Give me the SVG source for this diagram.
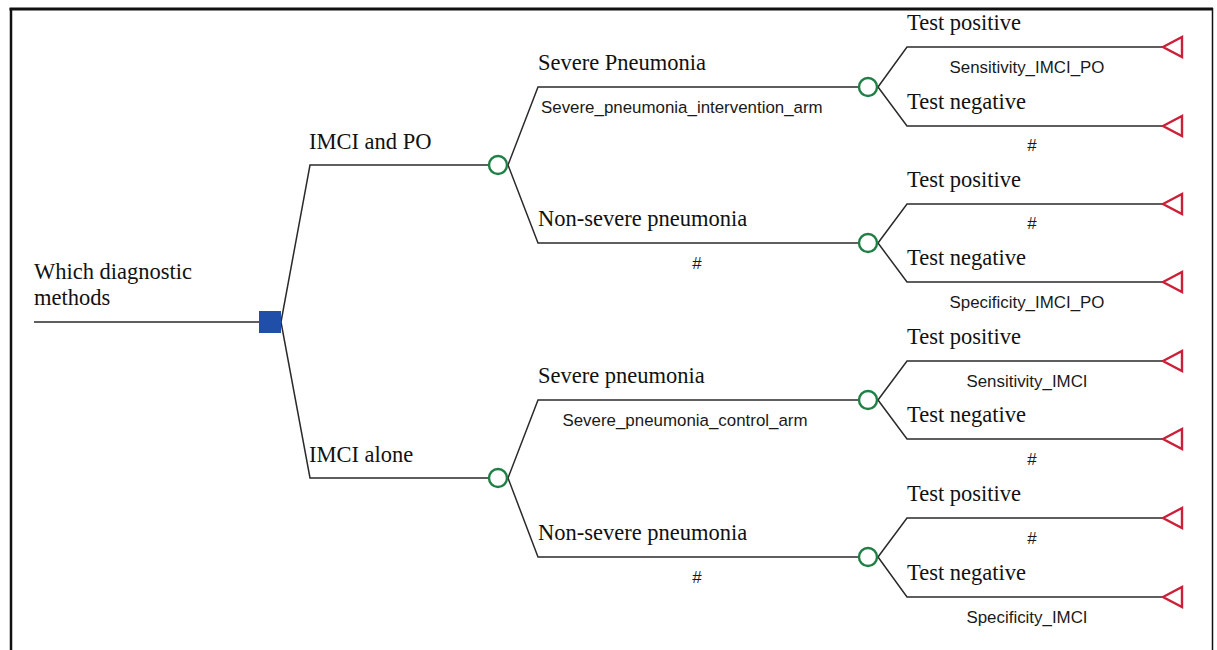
<svg xmlns="http://www.w3.org/2000/svg" width="1217" height="650" viewBox="0 0 1217 650">
<defs>
<style>
.ln{stroke:#2a2a2a;stroke-width:1.5;fill:none}
.chance{fill:#fff;stroke:#1e8045;stroke-width:2.4}
.term{fill:#fff;stroke:#cc1f38;stroke-width:2.4;stroke-linejoin:miter}
.dec{fill:#1f4fa8}
.t{font-family:"Liberation Serif","Times New Roman",serif;font-size:22.5px;fill:#111}
.s{font-family:"Liberation Sans",Arial,sans-serif;font-size:16.9px;fill:#1a1a1a}
.m{text-anchor:middle}
</style>
<polygon id="tri" points="0,0 19,-10 19,10"/>
</defs>
<rect width="1217" height="650" fill="#fff"/>
<g id="frame" fill="none" stroke="#111">
<line x1="9.5" y1="9" x2="1213" y2="9" stroke-width="3"/>
<line x1="11" y1="8" x2="11" y2="650" stroke-width="2.5"/>
<line x1="1212.5" y1="8" x2="1212.5" y2="650" stroke-width="1.5"/>
</g>
<g id="connectors" class="ln">
<line x1="34" y1="322" x2="259" y2="322"/>
<polyline points="281,322 310,165 488,165"/>
<polyline points="281,322 310,478 488,478"/>
<polyline points="508,165 538,87 858,87"/>
<polyline points="508,165 538,243 858,243"/>
<polyline points="508,478 538,400 858,400"/>
<polyline points="508,478 538,557 858,557"/>
<polyline points="878,87 907,47 1163,47"/>
<polyline points="878,87 907,126 1163,126"/>
<polyline points="878,243 907,204 1163,204"/>
<polyline points="878,243 907,282 1163,282"/>
<polyline points="878,400 907,361 1163,361"/>
<polyline points="878,400 907,439 1163,439"/>
<polyline points="878,557 907,518 1163,518"/>
<polyline points="878,557 907,597 1163,597"/>
</g>
<g id="decision-root">
<rect class="dec" x="259" y="311" width="22" height="22"/>
<text class="t" x="34" y="279">Which diagnostic</text>
<text class="t" x="34" y="305">methods</text>
</g>
<g id="chance-imci-po">
<circle class="chance" cx="498" cy="165" r="9"/>
<text class="t" x="309" y="149">IMCI and PO</text>
</g>
<g id="chance-imci-alone">
<circle class="chance" cx="498" cy="478" r="9"/>
<text class="t" x="309" y="462">IMCI alone</text>
</g>
<g id="chance-severe-po">
<circle class="chance" cx="868" cy="87" r="9"/>
<text class="t" x="538" y="70">Severe Pneumonia</text>
<text class="s" x="541" y="113">Severe_pneumonia_intervention_arm</text>
</g>
<g id="chance-nonsevere-po">
<circle class="chance" cx="868" cy="243" r="9"/>
<text class="t" x="538" y="226">Non-severe pneumonia</text>
<text class="s m" x="697" y="269">#</text>
</g>
<g id="chance-severe-alone">
<circle class="chance" cx="868" cy="400" r="9"/>
<text class="t" x="538" y="383">Severe pneumonia</text>
<text class="s m" x="685" y="426">Severe_pneumonia_control_arm</text>
</g>
<g id="chance-nonsevere-alone">
<circle class="chance" cx="868" cy="557" r="9"/>
<text class="t" x="538" y="540">Non-severe pneumonia</text>
<text class="s m" x="697" y="583">#</text>
</g>
<g id="term-1">
<use href="#tri" class="term" x="1163" y="47"/>
<text class="t" x="907" y="30">Test positive</text>
<text class="s m" x="1027" y="73">Sensitivity_IMCI_PO</text>
</g>
<g id="term-2">
<use href="#tri" class="term" x="1163" y="126"/>
<text class="t" x="907" y="109">Test negative</text>
<text class="s m" x="1032" y="151">#</text>
</g>
<g id="term-3">
<use href="#tri" class="term" x="1163" y="204"/>
<text class="t" x="907" y="187">Test positive</text>
<text class="s m" x="1032" y="229">#</text>
</g>
<g id="term-4">
<use href="#tri" class="term" x="1163" y="282"/>
<text class="t" x="907" y="265">Test negative</text>
<text class="s m" x="1027" y="308">Specificity_IMCI_PO</text>
</g>
<g id="term-5">
<use href="#tri" class="term" x="1163" y="361"/>
<text class="t" x="907" y="344">Test positive</text>
<text class="s m" x="1027" y="387">Sensitivity_IMCI</text>
</g>
<g id="term-6">
<use href="#tri" class="term" x="1163" y="439"/>
<text class="t" x="907" y="422">Test negative</text>
<text class="s m" x="1032" y="465">#</text>
</g>
<g id="term-7">
<use href="#tri" class="term" x="1163" y="518"/>
<text class="t" x="907" y="501">Test positive</text>
<text class="s m" x="1032" y="544">#</text>
</g>
<g id="term-8">
<use href="#tri" class="term" x="1163" y="597"/>
<text class="t" x="907" y="580">Test negative</text>
<text class="s m" x="1027" y="623">Specificity_IMCI</text>
</g>
</svg>
